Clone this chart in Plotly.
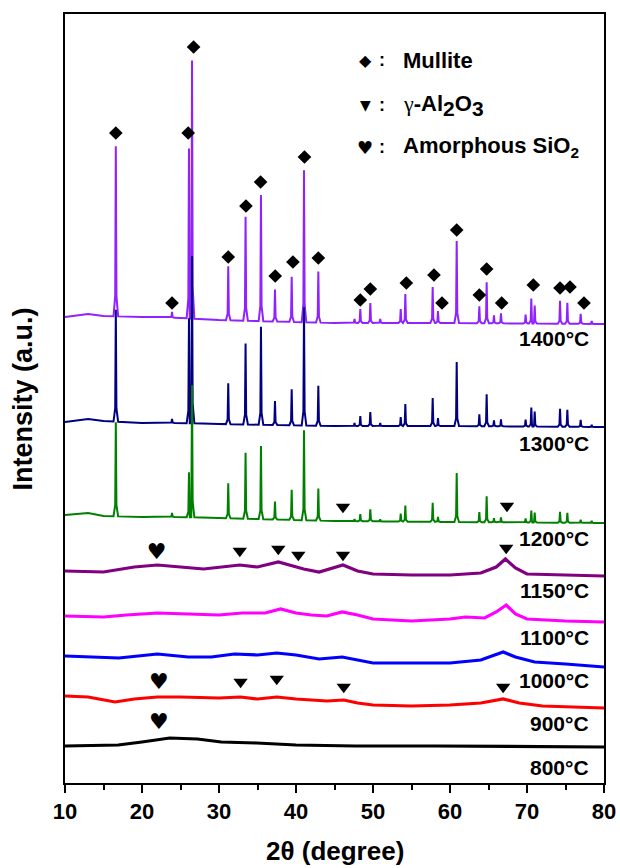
import numpy as np
import plotly.graph_objects as go

# ---------------- data ----------------
# 2-theta positions of mullite reflections (deg)
mullite_pos = [16.6, 23.9, 26.1, 26.5, 31.2, 33.45, 35.45, 37.27, 39.44, 41.04, 42.9,
               47.6, 48.35, 49.65, 50.94, 53.6, 54.2, 57.75, 58.44, 60.87, 63.81, 64.76,
               65.71, 66.62, 69.82, 70.56, 71.0, 74.29, 75.24, 76.97, 78.4]
# peak heights above the local background (a.u.)
h_1400 = [170, 6, 170, 258, 54, 104, 126, 32, 45, 152, 51,
          4, 14, 20, 4, 14, 29, 36, 12, 82, 17, 41,
          8, 10, 9, 25, 18, 23, 21, 10, 3]
h_1300 = [112, 4, 105, 167, 41, 81, 98, 24, 36, 118, 40,
          3, 10, 14, 3, 9, 22, 28, 8, 64, 12, 32,
          6, 7, 7, 19, 15, 18, 17, 7, 2]
h_1200 = [94, 4, 45, 132, 35, 66, 73, 18, 30, 90, 32,
          2, 7, 12, 2, 8, 16, 19, 5, 49, 10, 26,
          4, 5, 4, 12, 10, 11, 10, 3, 2]

# stacked background of the crystalline patterns
bg_x = [10, 13, 15, 20, 25, 30, 45, 60, 80]
bg_1400 = [466, 469, 467, 466, 465, 463, 460, 460, 459]
bg_1300 = [361, 364, 362, 360, 360, 359, 357, 357, 356]
bg_1200 = [268, 270, 267, 266, 266, 265, 262, 261, 260]

# amorphous / transition patterns (stacked intensity)
x_1150 = [10, 15, 19, 22, 25, 28, 32.7, 35, 37.7, 39.5, 41, 43, 46.1, 48, 50, 55, 60, 64, 66, 67.2, 68.5, 70, 75, 80]
y_1150 = [212, 211, 216, 218, 216, 214, 218, 216, 221, 217, 214, 211, 218, 212, 209, 208, 208, 210, 216, 224, 215, 209, 208, 207]
x_1100 = [10, 15, 18, 22, 26, 30, 33, 36, 38, 40, 42, 44, 46, 48, 50, 55, 60, 62, 64.5, 66, 67.3, 68.5, 70, 75, 80]
y_1100 = [167, 166, 168, 170, 169, 168, 170, 170, 174, 170, 168, 167, 171, 168, 164, 162, 164, 166, 165, 171, 178, 169, 164, 162, 161]
x_1000 = [10, 14, 17, 22, 26, 29, 32, 35, 37.5, 40, 43, 46, 48, 50, 55, 60, 64, 66.9, 68.5, 71, 75, 80]
y_1000 = [127, 126, 125, 129, 126, 126, 129, 128, 130, 128, 124, 126, 123, 120, 120, 120, 123, 131, 126, 121, 119, 116]
x_900 = [10, 13, 16.5, 19, 22, 25, 30, 32.8, 35, 37.5, 40, 44, 46.2, 48, 50, 55, 60, 64, 66.9, 69, 72, 80]
y_900 = [87, 86, 81, 84, 86, 86, 85, 86, 84, 86, 84, 82, 83, 80, 78, 77, 78, 80, 84, 80, 77, 75]
x_800 = [10, 16.9, 20, 23.6, 27.2, 30.3, 34.9, 40, 47.7, 58, 80]
y_800 = [37, 38, 41, 45, 44, 41, 40, 38, 37, 37, 36]

# phase markers
diamond_x = [16.6, 23.9, 26.0, 26.7, 31.2, 33.5, 35.4, 37.3, 39.6, 41.1, 42.9, 48.35, 49.65,
             54.33, 57.92, 58.96, 60.87, 63.81, 64.76, 66.71, 70.82, 74.29, 75.58, 77.4]
diamond_y = [650, 480, 650, 736, 526, 577, 601, 507, 521, 626, 525, 483, 494,
             500, 508, 480, 553, 488, 514, 480, 498, 495, 496, 480]
tri_x = [46.1, 67.4, 32.7, 37.7, 40.3, 46.1, 67.3, 32.8, 37.5, 46.2, 66.9]
tri_y = [276, 277, 232, 234, 228, 228, 235, 101, 104, 96, 96]
heart_x = [21.9, 22.2, 22.2]
heart_y = [230, 100, 60]

temps = ["1400°C", "1300°C", "1200°C", "1150°C", "1100°C", "1000°C", "900°C", "800°C"]
label_y = [445, 340, 245, 193, 146, 103, 60, 16]

colors = ["#8F22FF", "#000080", "#008000", "#800080", "#FF00FF", "#0000FF", "#FF0000", "#000000"]

# ---------------- build figure ----------------
def crystalline(bx, by, pos, h, w=0.3, wm=0.08, fm=0.12):
    pts = list(zip(bx, by))
    for c, hh in zip(pos, h):
        bl = float(np.interp(c - w, bx, by))
        bc = float(np.interp(c, bx, by))
        br = float(np.interp(c + w, bx, by))
        pts += [(c - w, bl), (c - wm, bc + fm * hh), (c, bc + hh),
                (c + wm, bc + fm * hh), (c + w, br)]
    pts.sort(key=lambda p: p[0])
    return [p[0] for p in pts], [p[1] for p in pts]

curves = [
    crystalline(bg_x, bg_1400, mullite_pos, h_1400),
    crystalline(bg_x, bg_1300, mullite_pos, h_1300),
    crystalline(bg_x, bg_1200, mullite_pos, h_1200),
    (x_1150, y_1150), (x_1100, y_1100), (x_1000, y_1000), (x_900, y_900), (x_800, y_800),
]

fig = go.Figure()
for i, ((xs, ys), col) in enumerate(zip(curves, colors)):
    fig.add_trace(go.Scatter(x=xs, y=ys, mode="lines",
                             line=dict(color=col, width=2 if i < 3 else 3.2),
                             showlegend=False, hoverinfo="skip"))

fig.add_trace(go.Scatter(x=diamond_x, y=diamond_y, mode="markers",
                         marker=dict(symbol="diamond", size=10.5, color="black"),
                         showlegend=False))
fig.add_trace(go.Scatter(x=tri_x, y=tri_y, mode="markers",
                         marker=dict(symbol="triangle-down", size=12.5, color="black"),
                         showlegend=False))
fig.add_trace(go.Scatter(x=heart_x, y=heart_y, mode="text", text=["♥"] * len(heart_x),
                         textposition="middle center",
                         textfont=dict(family="DejaVu Sans", size=22, color="black"),
                         showlegend=False))

FONT = "Liberation Sans, Arial, sans-serif"
ann = []
for t, yv in zip(temps, label_y):
    ann.append(dict(x=0.976, y=yv, xref="paper", yref="y", text=f"<b>{t}</b>",
                    showarrow=False, xanchor="right", yanchor="middle",
                    font=dict(family=FONT, size=21, color="black")))

big_sub = "<sub><span style=\"font-size:21px\">{}</span></sub>"
leg = [("◆", 16, "<b>Mullite</b>", 723),
       ("▼", 14, "<span style=\"font-family:'Liberation Serif';\">γ</span><b>-Al"
        + big_sub.format(2) + "O" + big_sub.format(3) + "</b>", 678),
       ("♥", 18, "<b>Amorphous SiO<sub>2</sub></b>", 636)]
for sym, ssz, txt, yv in leg:
    ann.append(dict(x=0.5566, y=yv, xref="paper", yref="y", text=sym, showarrow=False,
                    xanchor="center", yanchor="middle",
                    font=dict(family="DejaVu Sans", size=ssz, color="black")))
    ann.append(dict(x=0.588, y=yv, xref="paper", yref="y", text="<b>:</b>", showarrow=False,
                    xanchor="center", yanchor="middle",
                    font=dict(family=FONT, size=18, color="black")))
    ann.append(dict(x=0.6234, y=yv, xref="paper", yref="y", text=txt, showarrow=False,
                    xanchor="left", yanchor="middle",
                    font=dict(family=FONT, size=22, color="black")))

ann.append(dict(x=0.5, y=-0.089, xref="paper", yref="paper", text="<b>2θ (degree)</b>",
                showarrow=False, xanchor="center", yanchor="middle",
                font=dict(family=FONT, size=26, color="black")))
ann.append(dict(x=-0.078, y=0.5, xref="paper", yref="paper", text="<b>Intensity (a.u.)</b>",
                showarrow=False, xanchor="center", yanchor="middle", textangle=-90,
                font=dict(family=FONT, size=27, color="black")))

fig.update_layout(
    width=620, height=868, autosize=False,
    margin=dict(l=65, r=16, t=14, b=85, autoexpand=False),
    paper_bgcolor="white", plot_bgcolor="white",
    annotations=ann,
    xaxis=dict(range=[10, 80], tickvals=[10, 20, 30, 40, 50, 60, 70, 80], automargin=False,
               ticks="outside", ticklen=8, tickwidth=2, tickcolor="black",
               minor=dict(tickvals=[15, 25, 35, 45, 55, 65, 75], ticks="outside",
                          ticklen=5, tickwidth=2, tickcolor="black"),
               showline=True, linewidth=2, linecolor="black", mirror=True,
               showgrid=False, zeroline=False,
               tickfont=dict(family=FONT, size=22, color="black", weight="bold")),
    yaxis=dict(range=[0, 769], showticklabels=False, ticks="", automargin=False,
               showline=True, linewidth=2, linecolor="black", mirror=True,
               showgrid=False, zeroline=False),
)

fig.write_html("out.html")
